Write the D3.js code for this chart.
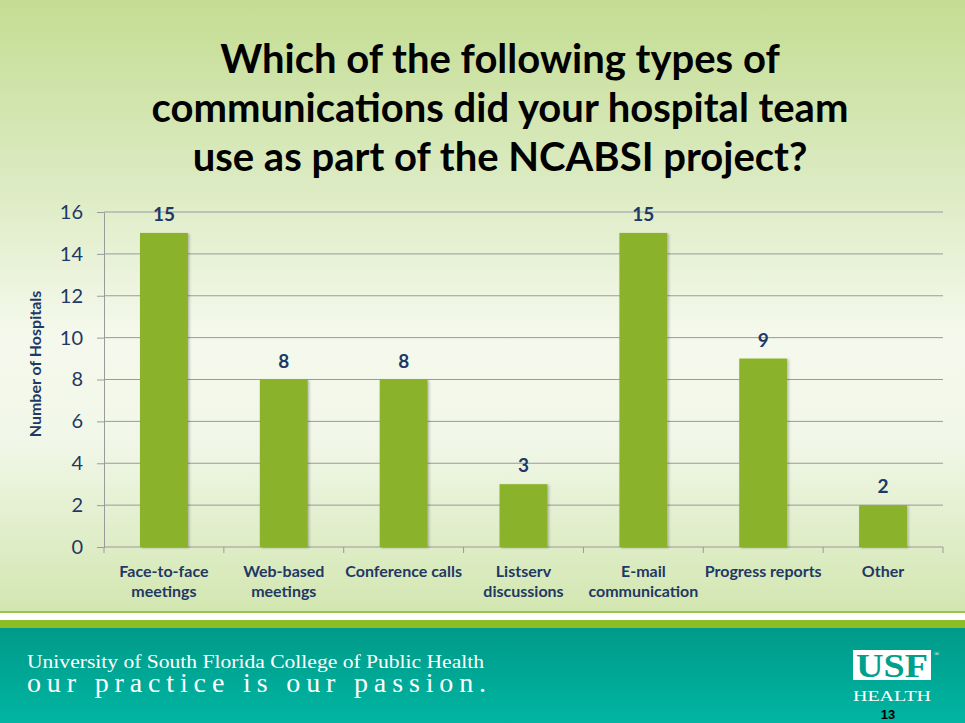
<!DOCTYPE html>
<html>
<head>
<meta charset="utf-8">
<script src="https://cdn.jsdelivr.net/npm/d3@7"></script>
<style>
  body { margin: 0; padding: 0; background: #fff; }
  svg { display: block; }
</style>
</head>
<body>
<div id="chart"></div>
<script>
var categories = [
  ["Face-to-face", "meetings"],
  ["Web-based", "meetings"],
  ["Conference calls"],
  ["Listserv", "discussions"],
  ["E-mail", "communication"],
  ["Progress reports"],
  ["Other"]
];
var values = [15, 8, 8, 3, 15, 9, 2];
var yTicks = [0, 2, 4, 6, 8, 10, 12, 14, 16];
var titleLines = [
  "Which of the following types of",
  "communications did your hospital team",
  "use as part of the NCABSI project?"
];

var W = 965, H = 723;
var navy = "#1f3864";
var font = "Lato, 'Open Sans', sans-serif";

var svg = d3.select("#chart").append("svg")
  .attr("width", W)
  .attr("height", H);

var defs = svg.append("defs");

// slide background
var bg = defs.append("linearGradient")
  .attr("id", "bg").attr("x1", 0).attr("y1", 0).attr("x2", 0).attr("y2", 1);
[[0, "#c4dd93"], [0.3, "#dcebc2"], [0.55, "#f5f9ed"], [0.72, "#f1f7e8"], [1, "#d2e6b0"]]
  .forEach(function(s) { bg.append("stop").attr("offset", s[0]).attr("stop-color", s[1]); });

var teal = defs.append("linearGradient")
  .attr("id", "teal").attr("x1", 0).attr("y1", 0).attr("x2", 0).attr("y2", 1);
teal.append("stop").attr("offset", 0).attr("stop-color", "#009a89");
teal.append("stop").attr("offset", 1).attr("stop-color", "#00b5a2");

var shadow = defs.append("filter").attr("id", "shadow")
  .attr("x", "-20%").attr("y", "-10%").attr("width", "140%").attr("height", "120%");
shadow.append("feDropShadow")
  .attr("dx", 1.5).attr("dy", 1).attr("stdDeviation", 1.2)
  .attr("flood-color", "#000").attr("flood-opacity", 0.25);

svg.append("rect").attr("width", W).attr("height", 613).attr("fill", "url(#bg)");

// footer bands
svg.append("rect").attr("y", 611).attr("width", W).attr("height", 2).attr("fill", "#9cc64a");
svg.append("rect").attr("y", 613).attr("width", W).attr("height", 7).attr("fill", "#ffffff");
svg.append("rect").attr("y", 620).attr("width", W).attr("height", 8).attr("fill", "#8cbd27");
svg.append("rect").attr("y", 628).attr("width", W).attr("height", H - 628).attr("fill", "url(#teal)");

// title
svg.append("text")
  .attr("text-anchor", "middle")
  .style("font-family", font)
  .style("font-weight", "bold")
  .style("font-size", "40px")
  .attr("fill", "#000")
  .selectAll("tspan")
  .data(titleLines)
  .enter()
  .append("tspan")
  .attr("x", 500)
  .attr("y", (d, i) => 73 + i * 49)
  .text(d => d);

// plot
var x0 = 104, x1 = 943, yTop = 212, yBot = 547;

var x = d3.scaleBand()
  .domain(d3.range(categories.length))
  .range([x0, x1])
  .paddingInner(0.6)
  .paddingOuter(0.3);

var xb = d3.scaleBand()
  .domain(d3.range(categories.length))
  .range([x0, x1]);

var y = d3.scaleLinear()
  .domain([0, 16])
  .range([yBot, yTop]);

// gridlines
svg.append("g")
  .selectAll("line")
  .data(yTicks.filter(t => t > 0))
  .enter()
  .append("line")
  .attr("x1", x0).attr("x2", x1)
  .attr("y1", d => y(d)).attr("y2", d => y(d))
  .attr("stroke", "#9a9a9a")
  .attr("stroke-width", 1);

// y axis
var yAxis = svg.append("g")
  .attr("transform", "translate(" + x0 + ",0)")
  .call(d3.axisLeft(y).tickValues(yTicks).tickSize(7).tickPadding(14));
yAxis.select(".domain").attr("stroke", "#9a9a9a");
yAxis.selectAll(".tick line").attr("stroke", "#9a9a9a");
yAxis.selectAll(".tick text")
  .attr("fill", navy)
  .style("font-family", font)
  .style("font-size", "20px");

// x axis line and ticks at band edges
svg.append("line")
  .attr("x1", x0).attr("x2", x1)
  .attr("y1", yBot).attr("y2", yBot)
  .attr("stroke", "#9a9a9a");
svg.append("g")
  .selectAll("line")
  .data(d3.range(categories.length + 1))
  .enter()
  .append("line")
  .attr("x1", i => x0 + i * xb.step()).attr("x2", i => x0 + i * xb.step())
  .attr("y1", yBot).attr("y2", yBot + 6)
  .attr("stroke", "#9a9a9a");

// bars
svg.append("g")
  .selectAll("rect")
  .data(values)
  .enter()
  .append("rect")
  .attr("x", (d, i) => x(i))
  .attr("y", d => y(d))
  .attr("width", x.bandwidth())
  .attr("height", d => yBot - y(d))
  .attr("fill", "#8ab22b")
  .attr("filter", "url(#shadow)");

// value labels
svg.append("g")
  .selectAll("text")
  .data(values)
  .enter()
  .append("text")
  .attr("x", (d, i) => x(i) + x.bandwidth() / 2)
  .attr("y", d => y(d) - 12)
  .attr("text-anchor", "middle")
  .attr("fill", navy)
  .style("font-family", font)
  .style("font-weight", "bold")
  .style("font-size", "19px")
  .text(d => d);

// category labels
svg.append("g")
  .selectAll("text")
  .data(categories)
  .enter()
  .append("text")
  .attr("text-anchor", "middle")
  .attr("fill", navy)
  .style("font-family", font)
  .style("font-weight", "bold")
  .style("font-size", "16px")
  .each(function(lines, i) {
    d3.select(this).selectAll("tspan")
      .data(lines)
      .enter()
      .append("tspan")
      .attr("x", xb(i) + xb.bandwidth() / 2)
      .attr("y", (d, j) => 577 + j * 20)
      .text(d => d);
  });

// y axis title
svg.append("text")
  .attr("transform", "translate(41,364) rotate(-90)")
  .attr("text-anchor", "middle")
  .attr("fill", navy)
  .style("font-family", font)
  .style("font-weight", "bold")
  .style("font-size", "16px")
  .text("Number of Hospitals");

// footer text
var serif = "'Liberation Serif', 'DejaVu Serif', serif";
svg.append("text")
  .attr("x", 27).attr("y", 668)
  .attr("fill", "#fff")
  .style("font-family", serif)
  .style("font-size", "18px")
  .attr("textLength", 457)
  .attr("lengthAdjust", "spacingAndGlyphs")
  .text("University of South Florida College of Public Health");
svg.append("text")
  .attr("x", 27).attr("y", 692)
  .attr("fill", "#fff")
  .style("font-family", serif)
  .style("font-size", "28px")
  .attr("textLength", 459)
  .attr("lengthAdjust", "spacing")
  .text("our practice is our passion.");

// USF logo
svg.append("rect")
  .attr("x", 853).attr("y", 650)
  .attr("width", 78).attr("height", 30)
  .attr("fill", "#fff");
svg.append("text")
  .attr("x", 856).attr("y", 677)
  .attr("fill", "#00a08d")
  .style("font-family", serif)
  .style("font-weight", "bold")
  .style("font-size", "34px")
  .attr("textLength", 72)
  .attr("lengthAdjust", "spacingAndGlyphs")
  .text("USF");
svg.append("text")
  .attr("x", 934).attr("y", 656)
  .attr("fill", "#fff")
  .style("font-family", serif)
  .style("font-size", "7px")
  .text("®");
svg.append("text")
  .attr("x", 853).attr("y", 701)
  .attr("fill", "#fff")
  .style("font-family", serif)
  .style("font-size", "15px")
  .attr("textLength", 78)
  .attr("lengthAdjust", "spacingAndGlyphs")
  .text("HEALTH");
svg.append("text")
  .attr("x", 888).attr("y", 719)
  .attr("text-anchor", "middle")
  .attr("fill", "#000")
  .style("font-family", "'Liberation Sans', Arial, sans-serif")
  .style("font-weight", "bold")
  .style("font-size", "13px")
  .text("13");
</script>
</body>
</html>
